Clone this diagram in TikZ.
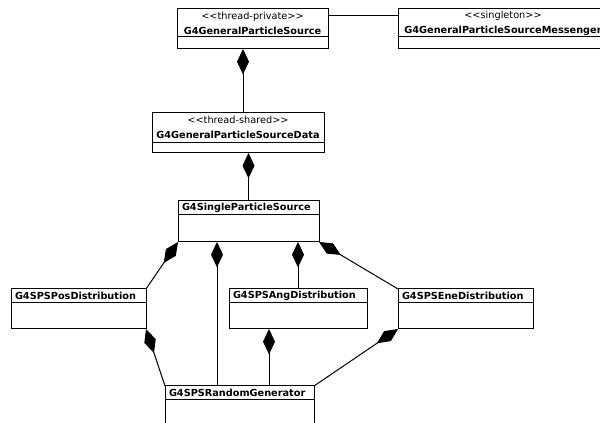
\documentclass[tikz,border=0pt]{standalone}
\usepackage{fontspec}
\usetikzlibrary{positioning,arrows.meta}
\newfontfamily\umlfont{DejaVu Sans}

\begin{document}
\begin{tikzpicture}[x=0.75pt,y=0.75pt,yscale=-1,xscale=1,
  every node/.style={outer sep=0pt},
  hdr/.style={draw, line width=0.75pt, anchor=north west, inner xsep=3pt, inner ysep=0pt, font=\umlfont\fontsize{7.3}{11.25}\selectfont},
  hdrst/.style={hdr, align=center},
  hdrnm/.style={hdr, align=left, minimum height=10.5pt, font=\umlfont\bfseries\fontsize{7.3}{9}\selectfont},
  cbody/.style={draw, line width=0.75pt, inner sep=0pt, below=0pt of #1},
  comp/.style={line width=0.75pt, {Diamond[length=19pt,width=9pt]}-},
  assoc/.style={line width=0.75pt}
]
\useasboundingbox (0,0) rectangle (600,423);

% classes with stereotype
\node[hdrst, text width=107.25pt, minimum height=21pt] (gpsh) at (177,9) {<<thread-private>>\\\textbf{G4GeneralParticleSource}};
\node[cbody=gpsh, minimum width=113.25pt, minimum height=9pt] (gpsb) {};

\node[hdrst, text width=151.5pt, minimum height=21pt] (msgh) at (398,9) {<<singleton>>\\\textbf{G4GeneralParticleSourceMessenger}};
\node[cbody=msgh, minimum width=157.5pt, minimum height=9pt] (msgb) {};

\node[hdrst, text width=123pt, minimum height=22pt] (datah) at (152,113) {<<thread-shared>>\\\textbf{G4GeneralParticleSourceData}};
\node[cbody=datah, minimum width=129pt, minimum height=8pt] (datab) {};

% plain classes
\node[hdrnm, text width=99.75pt] (spsh) at (178,201) {G4SingleParticleSource};
\node[cbody=spsh, minimum width=105.75pt, minimum height=20.25pt] (spsb) {};

\node[hdrnm, text width=95.25pt] (posh) at (11,289) {G4SPSPosDistribution};
\node[cbody=posh, minimum width=101.25pt, minimum height=19.5pt] (posb) {};

\node[hdrnm, text width=97.5pt] (angh) at (229,289) {G4SPSAngDistribution};
\node[cbody=angh, minimum width=103.5pt, minimum height=19.5pt] (angb) {};

\node[hdrnm, text width=95.25pt] (eneh) at (398,289) {G4SPSEneDistribution};
\node[cbody=eneh, minimum width=101.25pt, minimum height=19.5pt] (eneb) {};

\node[hdrnm, text width=105.75pt] (rngh) at (165,386) {G4SPSRandomGenerator};
\node[cbody=rngh, minimum width=111.75pt, minimum height=22.5pt] (rngb) {};

% connector ends off the box centres
\coordinate (gpsout) at ([xshift=-7.125pt]gpsb.south);
\coordinate (spsout) at ([xshift=29.25pt]spsb.south west);
\coordinate (angout) at ([xshift=30pt]angb.south west);

% associations
\draw[assoc] ([yshift=-5.25pt]gpsh.east) -- ([yshift=-5.25pt]msgh.west);

% compositions
\draw[comp] (gpsout) -- (gpsout |- datah.north);
\draw[comp] (datab.south -| spsh.north) -- (spsh.north);
\draw[comp] (spsb.south west) -- (posh.north east);
\draw[comp] (spsout) -- (spsout |- rngh.north);
\draw[comp] (spsb.south -| angh.north) -- (angh.north);
\draw[comp] (spsb.south east) -- (eneh.north west);
\draw[comp] (posb.south east) -- (rngh.north west);
\draw[comp] (angout) -- (angout |- rngh.north);
\draw[comp] (eneb.south west) -- (rngh.north east);

\end{tikzpicture}
\end{document}
